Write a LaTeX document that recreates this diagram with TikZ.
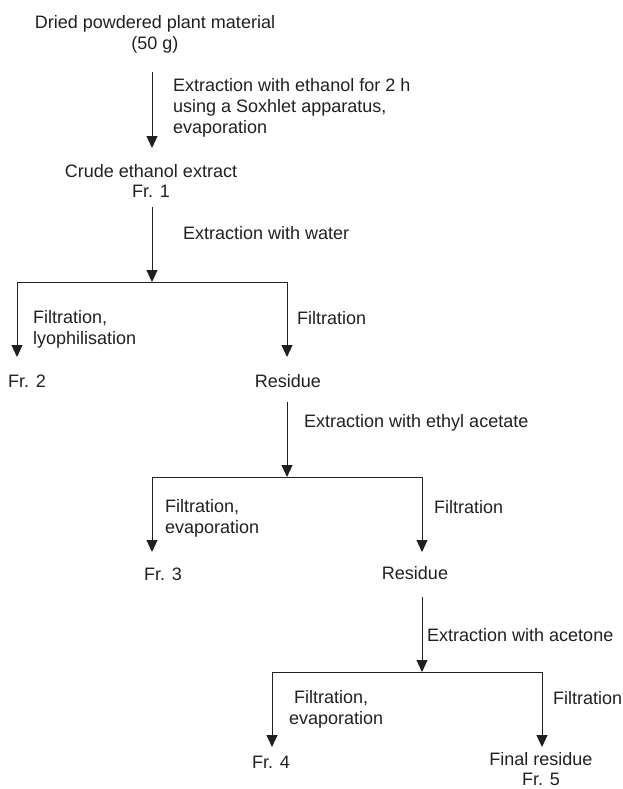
\documentclass[tikz,border=0pt]{standalone}
\usepackage{fontspec}
\setmainfont{Liberation Sans}
\usetikzlibrary{arrows.meta}
\definecolor{ink}{HTML}{231F20}
\begin{document}
\begin{tikzpicture}[x=1pt,y=-1pt,
  txt/.style={inner sep=0pt,font=\fontsize{18}{20.8}\selectfont,text=ink},
  ctxt/.style={txt,align=center,anchor=center},
  ltxt/.style={txt,align=left,anchor=west},
  conn/.style={draw=ink,line width=1pt},
  arr/.style={conn,-{Triangle[width=11pt,length=12pt]}}]
\useasboundingbox (0,0) rectangle (622,789);
% nodes
\node[ctxt] (start) at (155,34) {Dried powdered plant material\\(50 g)};
\node[ctxt] (crude) at (151,181) {Crude ethanol extract\\Fr. 1};
\node[ctxt] (fr2) at (27,381) {Fr. 2};
\node[ctxt] (res1) at (288,381) {Residue};
\node[ctxt] (fr3) at (163,574) {Fr. 3};
\node[ctxt] (res2) at (415,573) {Residue};
\node[ctxt] (fr4) at (271,762) {Fr. 4};
\node[ctxt] (fr5) at (541,769) {Final residue\\Fr. 5};
% labels
\node[ltxt] (l1) at (173,108) {Extraction with ethanol for 2 h\\using a Soxhlet apparatus,\\evaporation};
\node[ltxt] (l2) at (183,233) {Extraction with water};
\node[ltxt] (l3) at (33,329) {Filtration,\\lyophilisation};
\node[ltxt] (l4) at (297,318) {Filtration};
\node[ltxt] (l5) at (304,423) {Extraction with ethyl acetate};
\node[ltxt] (l6) at (165,518) {Filtration,\\ evaporation};
\node[ltxt] (l7) at (434,507) {Filtration};
\node[ltxt] (l8) at (427,635) {Extraction with acetone};
\node[ltxt] (l9) at (289,709) {\ Filtration,\\evaporation};
\node[ltxt] (l10) at (553,698) {Filtration};
% coordinates
\coordinate (a1s) at (152,72);  \coordinate (a1e) at (152,148);
\coordinate (a2s) at (152,207); \coordinate (j1) at (152,282);
\coordinate (j1l) at (17,282);  \coordinate (j1r) at (287,282);
\coordinate (t2) at (17,357);   \coordinate (t3) at (287,357);
\coordinate (a3s) at (287,402); \coordinate (j2) at (287,477);
\coordinate (j2l) at (152,477); \coordinate (j2r) at (422,477);
\coordinate (t4) at (152,552);  \coordinate (t5) at (422,552);
\coordinate (a4s) at (422,597); \coordinate (j3) at (422,672);
\coordinate (j3l) at (272,672); \coordinate (j3r) at (542,672);
\coordinate (t6) at (272,747);  \coordinate (t7) at (542,747);
% connectors
\draw[arr] (a1s) -- (a1e);
\draw[arr] (a2s) -- (j1);
\draw[arr] (j1) -- (j1l) -- (t2);
\draw[arr] (j1) -- (j1r) -- (t3);
\draw[arr] (a3s) -- (j2);
\draw[arr] (j2) -- (j2l) -- (t4);
\draw[arr] (j2) -- (j2r) -- (t5);
\draw[arr] (a4s) -- (j3);
\draw[arr] (j3) -- (j3l) -- (t6);
\draw[arr] (j3) -- (j3r) -- (t7);
\end{tikzpicture}
\end{document}
